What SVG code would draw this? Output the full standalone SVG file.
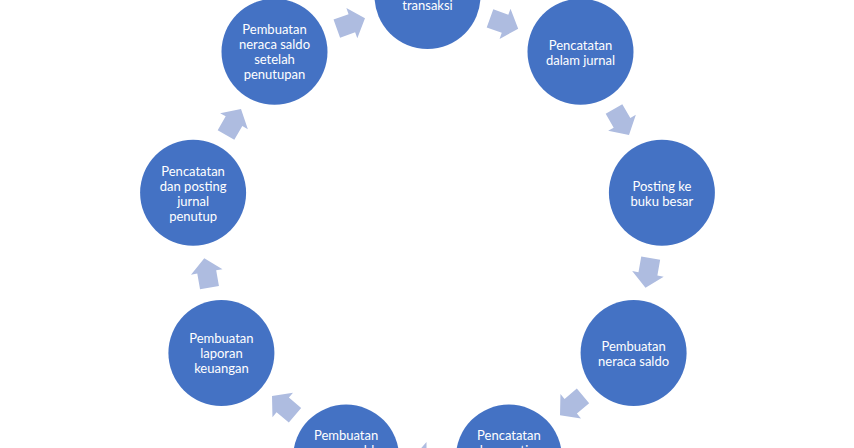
<svg xmlns="http://www.w3.org/2000/svg" width="854" height="448" viewBox="0 0 854 448">
<defs>
<style>
.node circle{fill:#4472C4;}
.node text{fill:#FFFFFF;font-family:Lato,"Open Sans","Liberation Sans",sans-serif;font-size:13px;text-anchor:middle;dominant-baseline:central;}
.arr{fill:#AEBCE0;}
</style>
<path id="ar" d="M-15,-9.6 L1,-9.6 L1,-16 L15,0 L1,16 L1,9.6 L-15,9.6 Z"/>
</defs>
<rect width="854" height="448" fill="#FFFFFF"/>
<g id="connectors" class="arr">
<use href="#ar" transform="translate(504.1,23.5) rotate(20)"/>
<use href="#ar" transform="translate(621.5,122) rotate(60)"/>
<use href="#ar" transform="translate(648.1,272.9) rotate(100)"/>
<use href="#ar" transform="translate(571.5,405.6) rotate(140)"/>
<use href="#ar" transform="translate(427.5,458) rotate(180)"/>
<use href="#ar" transform="translate(283.5,405.6) rotate(220)"/>
<use href="#ar" transform="translate(206.9,272.9) rotate(260)"/>
<use href="#ar" transform="translate(233.5,122) rotate(300)"/>
<use href="#ar" transform="translate(350.9,23.5) rotate(340)"/>
</g>
<g id="n1" class="node"><circle cx="427.5" cy="-4" r="53"/><text x="427.5" y="4.5">transaksi</text></g>
<g id="n2" class="node"><circle cx="580.5" cy="51.7" r="53"/><text x="580.5" y="44.5">Pencatatan</text><text x="580.5" y="59.5">dalam jurnal</text></g>
<g id="n3" class="node"><circle cx="661.9" cy="192.7" r="53"/><text x="661.9" y="185.5">Posting ke</text><text x="661.9" y="200.5">buku besar</text></g>
<g id="n4" class="node"><circle cx="633.6" cy="353" r="53"/><text x="633.6" y="345.5">Pembuatan</text><text x="633.6" y="360.5">neraca saldo</text></g>
<g id="n5" class="node"><circle cx="508.9" cy="457.6" r="53"/><text x="508.9" y="435">Pencatatan</text><text x="508.9" y="450">dan posting</text></g>
<g id="n6" class="node"><circle cx="346.1" cy="457.6" r="53"/><text x="346.1" y="435">Pembuatan</text><text x="346.1" y="450">neraca saldo</text></g>
<g id="n7" class="node"><circle cx="221.4" cy="353" r="53"/><text x="221.4" y="337.5">Pembuatan</text><text x="221.4" y="352.5">laporan</text><text x="221.4" y="367.5">keuangan</text></g>
<g id="n8" class="node"><circle cx="193.1" cy="192.7" r="53"/><text x="193.1" y="170.5">Pencatatan</text><text x="193.1" y="185.5">dan posting</text><text x="193.1" y="200.5">jurnal</text><text x="193.1" y="215.5">penutup</text></g>
<g id="n9" class="node"><circle cx="274.5" cy="51.7" r="53"/><text x="274.5" y="29">Pembuatan</text><text x="274.5" y="44">neraca saldo</text><text x="274.5" y="59">setelah</text><text x="274.5" y="74">penutupan</text></g>
</svg>
